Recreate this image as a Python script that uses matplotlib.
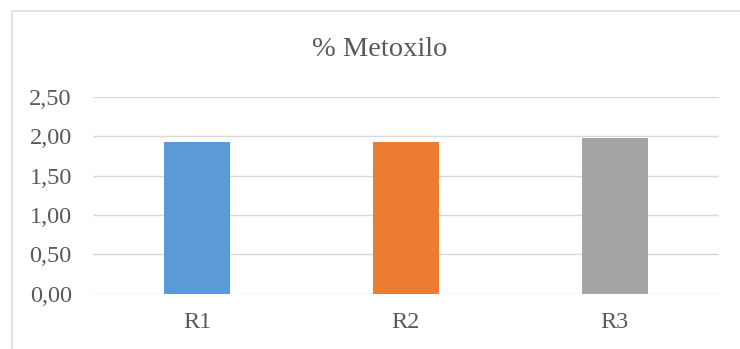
import matplotlib
matplotlib.use("Agg")
import matplotlib.pyplot as plt
from matplotlib.patches import Rectangle
from matplotlib.ticker import FuncFormatter

categories = ["R1", "R2", "R3"]
values = [1.925, 1.925, 1.976]
colors = ["#5B9BD5", "#ED7D31", "#A5A5A5"]
yticks = [0.0, 0.5, 1.0, 1.5, 2.0, 2.5]
title = "% Metoxilo"

plt.rcParams["font.family"] = ["Liberation Serif", "DejaVu Serif"]

W, H = 740, 349
fig = plt.figure(figsize=(W / 100, H / 100), dpi=100)

# chart frame (runs past the right and bottom edges)
frame = Rectangle((12.3 / W, -0.1), 1.2, 1.1 - 11 / H,
                  transform=fig.transFigure, fill=False,
                  edgecolor="#D9D9D9", linewidth=1.1)
fig.patches.append(frame)

left, right = 92.7 / W, 719 / W
bottom, top = 1 - 293.7 / H, 1 - 96.7 / H
ax = fig.add_axes([left, bottom, right - left, top - bottom])

x = list(range(len(categories)))
ax.bar(x, values, width=0.316, color=colors, zorder=3)

ax.set_xlim(-0.5, len(categories) - 0.5)
ax.set_ylim(0, 2.5)
ax.set_yticks(yticks)
ax.yaxis.set_major_formatter(FuncFormatter(lambda v, p: f"{v:.2f}".replace(".", ",")))
ax.set_xticks(x)
ax.set_xticklabels(categories)

ax.grid(axis="y", color="#D9D9D9", linewidth=1.0, zorder=0)
for s in ax.spines.values():
    s.set_visible(False)
ax.tick_params(axis="both", length=0, labelsize=17.5, labelcolor="#595959")
ax.tick_params(axis="y", pad=15)
ax.tick_params(axis="x", pad=13)

fig.text(380 / W, 1 - 56.5 / H, title, ha="center", va="baseline",
         fontsize=20.5, color="#595959")

fig.savefig("out.png", dpi=100)
